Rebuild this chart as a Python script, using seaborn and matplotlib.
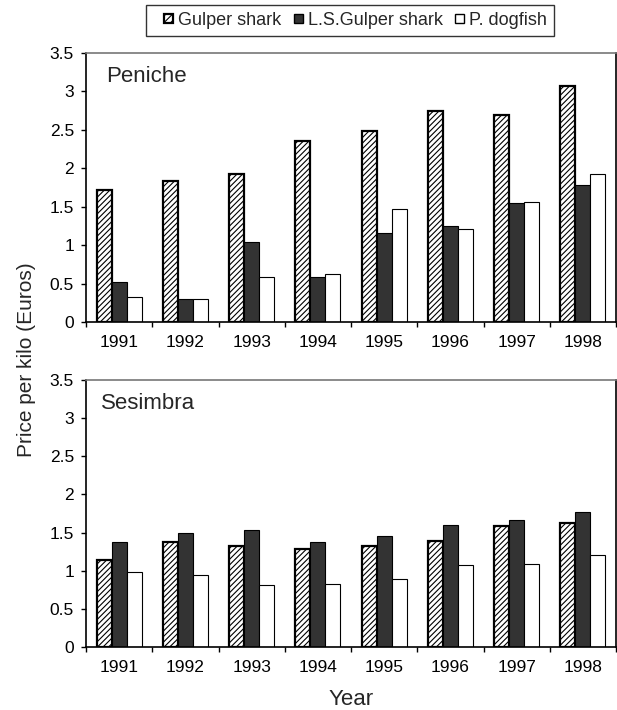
import matplotlib
matplotlib.use("Agg")
import matplotlib.pyplot as plt
import seaborn as sns
import pandas as pd
from matplotlib.patches import Patch, Rectangle
from matplotlib.legend_handler import HandlerPatch

years = ["1991", "1992", "1993", "1994", "1995", "1996", "1997", "1998"]
series = ["Gulper shark", "L.S.Gulper shark", "P. dogfish"]

peniche_gulper = [1.72, 1.83, 1.92, 2.36, 2.49, 2.75, 2.69, 3.07]
peniche_ls = [0.52, 0.30, 1.04, 0.59, 1.16, 1.25, 1.55, 1.78]
peniche_dog = [0.32, 0.30, 0.58, 0.63, 1.47, 1.21, 1.56, 1.92]

sesimbra_gulper = [1.14, 1.38, 1.33, 1.29, 1.33, 1.39, 1.59, 1.62]
sesimbra_ls = [1.37, 1.49, 1.53, 1.37, 1.45, 1.60, 1.66, 1.77]
sesimbra_dog = [0.98, 0.94, 0.81, 0.83, 0.89, 1.07, 1.09, 1.20]

yticks = [0, 0.5, 1, 1.5, 2, 2.5, 3, 3.5]
ytick_labels = ["0", "0.5", "1", "1.5", "2", "2.5", "3", "3.5"]

sns.set_style("white")
plt.rcParams["font.family"] = ["Liberation Sans", "DejaVu Sans"]
plt.rcParams["hatch.linewidth"] = 0.8

W, H = 617, 710


def make_df(g, l, d):
    rows = []
    for vals, name in zip([g, l, d], series):
        for y, v in zip(years, vals):
            rows.append({"Year": y, "Species": name, "Price": v})
    return pd.DataFrame(rows)


fig = plt.figure(figsize=(W / 100, H / 100), dpi=100)
ax1 = fig.add_axes([86 / W, 1 - 322 / H, 530 / W, 269 / H])
ax2 = fig.add_axes([86 / W, 1 - 647 / H, 530 / W, 267 / H])

face = {"Gulper shark": "white", "L.S.Gulper shark": "#333333", "P. dogfish": "white"}

for ax, (g, l, d), title, tx in [
    (ax1, (peniche_gulper, peniche_ls, peniche_dog), "Peniche", 106),
    (ax2, (sesimbra_gulper, sesimbra_ls, sesimbra_dog), "Sesimbra", 101),
]:
    df = make_df(g, l, d)
    sns.barplot(data=df, x="Year", y="Price", hue="Species", hue_order=series,
                order=years, palette=face, width=0.68, edgecolor="black",
                linewidth=0.8, legend=False, ax=ax, saturation=1)
    for p in ax.containers[0]:
        p.set_hatch("//////")
        p.set_linewidth(1.6)
    ax.set_ylim(0, 3.5)
    ax.set_xlim(-0.5, 7.5)
    ax.set_yticks(yticks)
    ax.set_yticklabels(ytick_labels)
    ax.set_xlabel("")
    ax.set_ylabel("")
    ax.set_xticks(range(len(years)))
    ax.set_xticklabels(years)
    ax.set_xticks([i - 0.5 for i in range(len(years) + 1)], minor=True)
    ax.tick_params(axis="x", which="major", length=0, labelsize=12.5, pad=9, colors="black")
    ax.tick_params(axis="x", which="minor", length=3.6, width=1, color="black", direction="out", bottom=True)
    ax.tick_params(axis="y", which="major", length=3.6, width=1, color="black", direction="out",
                   left=True, labelsize=12.5, pad=5, labelcolor="black")
    for s in ["left", "bottom"]:
        ax.spines[s].set_color("black")
        ax.spines[s].set_linewidth(1.2)
    ax.spines["top"].set_color("#777777")
    ax.spines["top"].set_linewidth(1.2)
    ax.spines["right"].set_color("black")
    ax.spines["right"].set_linewidth(1.2)
    bbox = ax.get_position()
    ax.text((tx - 86) / 530, 1 - 29 / (bbox.height * H), title, transform=ax.transAxes,
            fontsize=16, va="baseline", ha="left")

fig.text(27 / W, 1 - 360 / H, "Price per kilo (Euros)", rotation=90,
         fontsize=15, ha="center", va="center")
fig.text(351 / W, 1 - 705 / H, "Year", fontsize=16, ha="center", va="baseline")


class SquareHandler(HandlerPatch):
    def create_artists(self, legend, orig_handle, xdescent, ydescent, width, height,
                       fontsize, trans):
        s = 6.5
        p = Rectangle((width - s - xdescent, (height - s) / 2 - ydescent), s, s)
        self.update_prop(p, orig_handle, legend)
        p.set_transform(trans)
        return [p]


handles = [
    Patch(facecolor="white", edgecolor="black", hatch="/////", linewidth=1.6),
    Patch(facecolor="#333333", edgecolor="black", linewidth=1.0),
    Patch(facecolor="white", edgecolor="black", linewidth=1.0),
]
leg = fig.legend(handles, series, loc="center", bbox_to_anchor=(350 / W, 1 - 20.5 / H),
                 ncol=3, frameon=True, fancybox=False, edgecolor="black", fontsize=13,
                 handlelength=1.1, handleheight=0.7, handletextpad=0.28,
                 columnspacing=0.1, borderpad=0.4, borderaxespad=0,
                 handler_map={Patch: SquareHandler()})
leg.get_frame().set_linewidth(1.0)

fig.savefig("out.png", dpi=100)
